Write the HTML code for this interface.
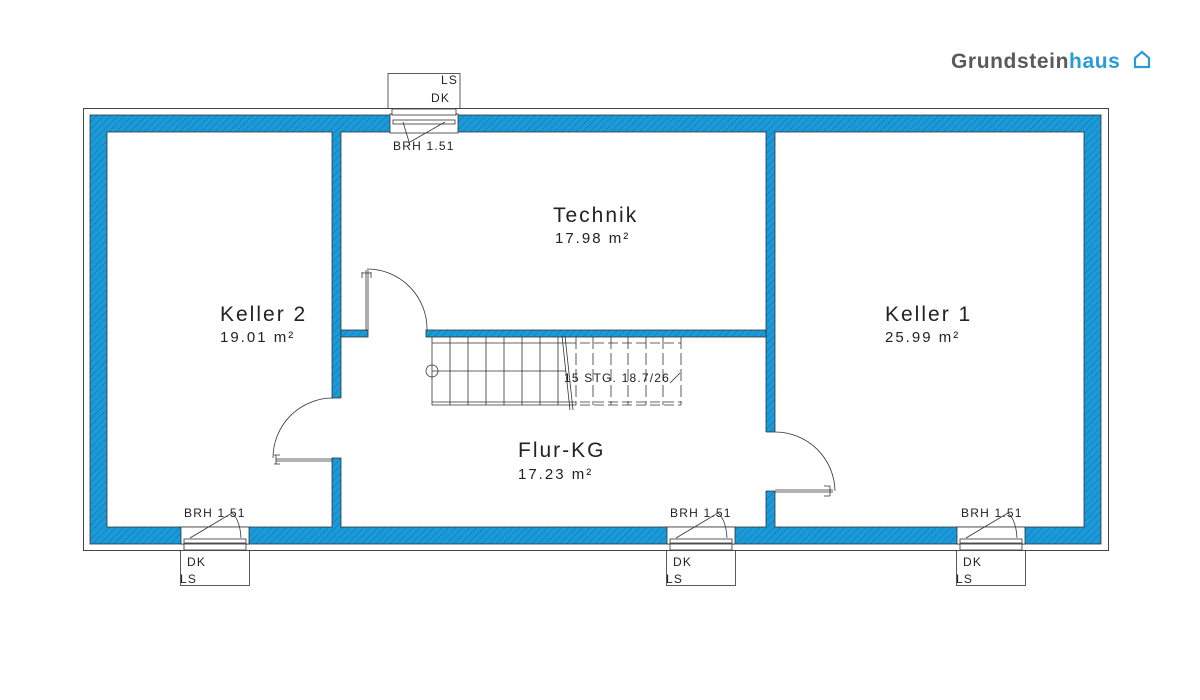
<!DOCTYPE html>
<html><head><meta charset="utf-8"><style>
html,body{margin:0;padding:0;background:#fff;}
svg{display:block;}
text{font-family:"Liberation Sans",sans-serif;fill:#222;}
</style></head><body>
<svg width="1200" height="700" viewBox="0 0 1200 700" xmlns="http://www.w3.org/2000/svg">
<defs>
<pattern id="h" width="5" height="5" patternUnits="userSpaceOnUse" patternTransform="rotate(45)">
<rect width="5" height="5" fill="#1a9ad9"/>
<line x1="0" y1="0" x2="0" y2="5" stroke="#0d5f8e" stroke-width="0.7"/>
</pattern>
</defs>
<!-- logo -->
<text x="951" y="68" font-size="21" font-weight="bold" letter-spacing="0.6" style="fill:#5a5a5a">Grundstein<tspan style="fill:#2a9bd8">haus</tspan></text>
<path d="M1135 67 V58 L1142 52 L1149 58 V67 Z" fill="none" stroke="#2a9bd8" stroke-width="2.2"/>
<!-- outer line -->
<rect x="83.5" y="108.5" width="1025" height="442" fill="none" stroke="#444" stroke-width="1"/>
<!-- walls -->
<rect x="90" y="115" width="1011" height="429" fill="url(#h)" stroke="#333" stroke-width="0.8"/>
<g fill="#fff" stroke="#333" stroke-width="0.8">
<rect x="107" y="132" width="225" height="395"/>
<rect x="341" y="132" width="425" height="395"/>
<rect x="775" y="132" width="309" height="395"/>
</g>
<!-- interior wall Technik/Flur and stub -->
<rect x="426" y="330" width="340" height="7" fill="url(#h)" stroke="#333" stroke-width="0.8"/>
<rect x="341" y="330" width="27" height="7" fill="url(#h)" stroke="#333" stroke-width="0.8"/>
<!-- door openings -->
<rect x="331" y="398" width="11" height="60" fill="#fff"/>
<rect x="765" y="432" width="11" height="59" fill="#fff"/>
<g fill="none" stroke="#333" stroke-width="0.8">
<line x1="332" y1="398" x2="341" y2="398"/><line x1="332" y1="458" x2="341" y2="458"/>
<line x1="766" y1="432" x2="775" y2="432"/><line x1="766" y1="491" x2="775" y2="491"/>
<!-- doors -->
<line x1="276" y1="459" x2="333" y2="459"/><line x1="276" y1="461" x2="333" y2="461"/>
<path d="M333 398 A60 60 0 0 0 273 458"/>
<path d="M274 455 h6 M274 464 h6 M276 455 v9"/>
<line x1="366" y1="270" x2="366" y2="331"/><line x1="368" y1="270" x2="368" y2="331"/>
<path d="M367 269 A60 60 0 0 1 427 330"/>
<path d="M362 272 v6 M371 272 v6 M362 273 h9"/>
<line x1="775" y1="490" x2="833" y2="490"/><line x1="775" y1="492" x2="833" y2="492"/>
<path d="M775 432 A60 60 0 0 1 835 491"/>
<path d="M824 486 h6 M824 496 h6 M830 486 v10"/>
</g>
<!-- windows -->
<g stroke="#333" stroke-width="0.8">
<rect x="390" y="114" width="68" height="19" fill="#fff"/>
<rect x="388" y="73.5" width="72" height="35" fill="#fff"/>
<rect x="392" y="109" width="64" height="6" fill="#fff"/>
<rect x="181" y="527" width="68" height="17" fill="#fff"/>
<rect x="667" y="527" width="68" height="17" fill="#fff"/>
<rect x="957" y="527" width="68" height="17" fill="#fff"/>
<rect x="180.5" y="550.5" width="69" height="35" fill="#fff"/>
<rect x="666.5" y="550.5" width="69" height="35" fill="#fff"/>
<rect x="956.5" y="550.5" width="69" height="35" fill="#fff"/>
<rect x="184" y="544" width="62" height="6" fill="#fff"/>
<rect x="670" y="544" width="62" height="6" fill="#fff"/>
<rect x="960" y="544" width="62" height="6" fill="#fff"/>
</g>
<g fill="none" stroke="#333" stroke-width="0.8">
<rect x="393" y="120" width="62" height="4"/>
<rect x="184" y="539" width="62" height="4"/><rect x="670" y="539" width="62" height="4"/><rect x="960" y="539" width="62" height="4"/>
<path d="M403 122 L410 145 M445 122 L410 142"/>
<path d="M190 538 L232 513 Q240 520 241 538"/>
<path d="M676 538 L718 513 Q726 520 727 538"/>
<path d="M966 538 L1008 513 Q1016 520 1017 538"/>
</g>
<g font-size="12" letter-spacing="1.2">
<text x="441" y="84">LS</text><text x="431" y="102">DK</text>
<text x="393" y="150">BRH 1.51</text>
<text x="184" y="517">BRH 1.51</text><text x="670" y="517">BRH 1.51</text><text x="961" y="517">BRH 1.51</text>
<text x="187" y="566">DK</text><text x="180" y="583">LS</text>
<text x="673" y="566">DK</text><text x="666" y="583">LS</text>
<text x="963" y="566">DK</text><text x="956" y="583">LS</text>
</g>
<!-- stairs -->
<g fill="none" stroke="#333" stroke-width="0.8">
<line x1="432" y1="343" x2="566" y2="343"/><line x1="432" y1="402" x2="566" y2="402"/>
<line x1="432" y1="405" x2="566" y2="405"/>
<line x1="432" y1="371" x2="566" y2="371"/>
<path d="M432 337 V405 M450 337 V405 M468 337 V405 M486 337 V405 M504 337 V405 M522 337 V405 M540 337 V405 M558 337 V405"/>
<line x1="566" y1="343" x2="681" y2="343" stroke-dasharray="10 4"/>
<line x1="566" y1="402" x2="681" y2="402" stroke-dasharray="10 4"/>
<line x1="566" y1="405" x2="681" y2="405" stroke-dasharray="10 4"/>
<path d="M576 337 V405 M593 337 V405 M611 337 V405 M628 337 V405 M646 337 V405 M663 337 V405 M681 337 V405" stroke-dasharray="12 4"/>
<path d="M562 336 L570 410 M565 336 L573 410"/>
<circle cx="432" cy="371" r="6"/>
<path d="M670 383 L680 373"/>
</g>
<text x="564" y="382" font-size="12" letter-spacing="1.2">15 STG. 18.7/26</text>
<!-- room labels -->
<g font-size="21" letter-spacing="2">
<text x="553" y="222">Technik</text>
<text x="220" y="321">Keller 2</text>
<text x="885" y="321">Keller 1</text>
<text x="518" y="457">Flur-KG</text>
</g>
<g font-size="15" letter-spacing="2">
<text x="555" y="243">17.98 m²</text>
<text x="220" y="342">19.01 m²</text>
<text x="885" y="342">25.99 m²</text>
<text x="518" y="479">17.23 m²</text>
</g>
</svg>
</body></html>
